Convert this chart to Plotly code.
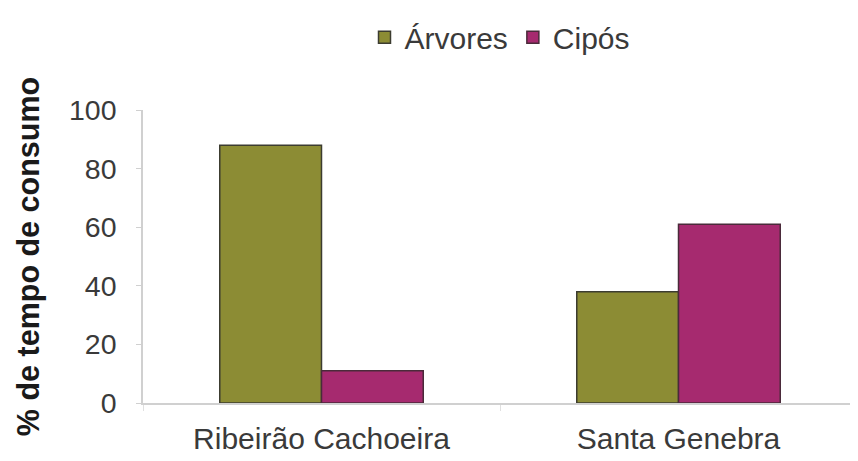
import plotly.graph_objects as go

categories = ["Ribeirão Cachoeira", "Santa Genebra"]
arvores = [88, 38]
cipos = [11, 61]
series_names = ["Árvores", "Cipós"]
y_ticks = [0, 20, 40, 60, 80, 100]

FONT = "Liberation Sans, Arial, sans-serif"

fig = go.Figure()
fig.add_trace(go.Bar(
    x=categories, y=arvores, name=series_names[0],
    marker=dict(color="#8C8C34", line=dict(color="#3c3c30", width=1.5)),
))
fig.add_trace(go.Bar(
    x=categories, y=cipos, name=series_names[1],
    marker=dict(color="#A62A6F", line=dict(color="#4a2a3a", width=1.5)),
))

# page body has an 8px margin, so figure is offset by 8px
fig.update_layout(
    width=850, height=453,
    margin=dict(l=135, r=1, t=102, b=58),
    paper_bgcolor="white", plot_bgcolor="white",
    barmode="group", bargap=0.43, bargroupgap=0,
    font=dict(family=FONT, size=28.5, color="#3a3a3a"),
    legend=dict(orientation="h", x=0.5, xanchor="center", y=1.337, yanchor="top",
                font=dict(size=30, color="#3a3a3a"), itemwidth=30,
                tracegroupgap=0, bgcolor="rgba(0,0,0,0)"),
    xaxis=dict(showgrid=False, showline=True, linecolor="#d0d0d0", linewidth=1.5,
               automargin=False,
               ticks="outside", tickson="boundaries", ticklen=6, tickcolor="#e0e0e0",
               ticklabelstandoff=8,
               tickfont=dict(size=30, color="#3a3a3a")),
    yaxis=dict(range=[0, 100], tickvals=y_ticks, showgrid=False, zeroline=False,
               automargin=False,
               showline=True, linecolor="#d0d0d0", linewidth=1.5,
               ticks="outside", ticklen=5, tickcolor="#d0d0d0",
               ticklabelstandoff=14,
               tickfont=dict(size=28.5, color="#3a3a3a"),
               title=dict(text="<b>% de tempo de consumo</b>", standoff=20,
                          font=dict(size=30.5, color="#1a1a1a"))),
)

fig.write_html("out.html")
